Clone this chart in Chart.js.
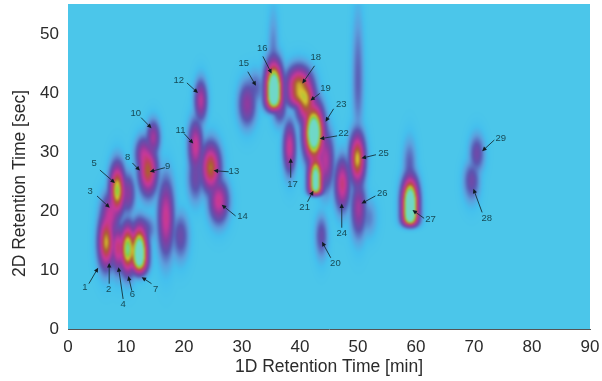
<!DOCTYPE html>
<html>
<head>
<meta charset="utf-8">
<style>
  html, body { margin: 0; padding: 0; background: #fff; }
  canvas { display: block; }
</style>
<script src="https://cdn.jsdelivr.net/npm/chart.js@4"></script>
</head>
<body>
<canvas id="chart" width="602" height="381"></canvas>
<script>
// tick labels
const xTicks = [0, 10, 20, 30, 40, 50, 60, 70, 80, 90];
const yTicks = [0, 10, 20, 30, 40, 50];

// peaks: 1D time, 2D time, height, spreads (min / sec), sharpness of lower edge
const peakX     = [6.6, 8.6, 10.3, 12.3, 8.5, 7.3, 10.3, 13.8, 13.0, 14.7, 16.9, 19.4, 22.0, 22.0, 24.6, 26.0, 22.9, 30.9, 32.3, 35.5, 35.4, 36.5, 39.8, 41.0, 42.4, 42.7, 44.4, 38.2, 47.3, 49.9, 50.0, 50.1, 51.8, 59.0, 58.9, 43.7, 69.6, 70.5, 13.0];
const peakY     = [14.7, 13.8, 13.6, 12.9, 23.5, 19.5, 23.0, 26.9, 29.7, 32.5, 18.9, 15.8, 31.1, 25.7, 27.4, 21.8, 38.8, 38.2, 41.0, 40.8, 47.0, 37.6, 41.3, 38.8, 33.3, 25.7, 28.6, 30.8, 24.6, 28.9, 42.0, 20.6, 18.9, 21.4, 28.0, 15.8, 25.2, 29.8, 17.0];
const peakLevel = [0.78, 0.56, 0.96, 1.25, 0.88, 0.48, 0.36, 0.7, 0.44, 0.42, 0.52, 0.27, 0.52, 0.28, 0.72, 0.52, 0.46, 0.38, 0.2, 1.3, 0.15, 0.32, 0.76, 0.76, 1.25, 1.1, 0.46, 0.52, 0.56, 0.8, 0.2, 0.42, 0.15, 1.3, 0.2, 0.26, 0.28, 0.28, 0.26];
const peakW     = [0.95, 0.8, 0.9, 0.95, 0.9, 1.1, 0.9, 1.1, 0.95, 0.8, 0.95, 1.0, 0.85, 0.95, 1.15, 1.15, 0.75, 1.05, 1.05, 1.0, 0.65, 0.85, 1.5, 1.15, 1.15, 0.85, 1.0, 0.75, 0.9, 0.9, 0.7, 0.9, 1.0, 0.95, 0.8, 0.75, 0.95, 0.9, 1.4];
const peakUp    = [3.3, 2.6, 2.8, 3.0, 3.0, 2.5, 2.4, 2.8, 2.0, 2.0, 4.5, 2.6, 3.0, 2.6, 2.8, 2.4, 2.4, 2.6, 2.0, 3.0, 5.0, 2.0, 2.2, 2.6, 3.2, 2.5, 3.5, 3.0, 3.0, 3.0, 8.0, 3.0, 2.2, 2.8, 3.0, 2.4, 2.2, 2.2, 1.6];
const peakDown  = [3.0, 2.8, 2.8, 2.6, 2.8, 2.6, 2.4, 2.8, 2.0, 2.0, 4.5, 2.8, 3.0, 2.8, 2.8, 2.6, 2.4, 2.6, 2.0, 3.0, 3.0, 2.0, 3.0, 2.6, 3.2, 2.6, 3.5, 3.0, 3.0, 3.0, 6.0, 3.4, 2.2, 3.4, 3.0, 2.6, 2.4, 2.2, 1.6];
const peakEdge  = [2, 2, 2, 3, 2, 2, 2, 2, 2, 2, 2, 2, 2, 2, 2, 2, 2, 2, 2, 4, 2, 2, 4, 2, 2, 6, 2, 2, 2, 2, 2, 2, 2, 6, 2, 2, 2, 2, 2];

// numbered call-outs: label, text position, arrow tail, arrow tip (chart units)
const calloutNames = ['1','2','3','4','5','6','7','8','9','10','11','12','13','14','15','16','17','18','19','20','21','22','23','24','25','26','27','28','29'];
const calloutTextX = [2.9, 7.0, 3.8, 9.5, 4.5, 11.1, 15.1, 10.3, 17.2, 11.7, 19.4, 19.1, 28.6, 30.1, 30.3, 33.5, 38.7, 42.7, 44.4, 46.1, 40.8, 47.5, 47.1, 47.2, 54.4, 54.2, 62.5, 72.2, 74.6];
const calloutTextY = [7.1, 6.8, 23.3, 4.1, 28.1, 5.8, 6.8, 29.1, 27.6, 36.6, 33.8, 42.3, 26.7, 19.2, 45.1, 47.6, 24.5, 46.1, 40.9, 11.1, 20.6, 33.2, 38.1, 16.3, 29.9, 23.0, 18.7, 18.8, 32.4];
const calloutTailX = [3.6, 7.1, 5.0, 9.5, 5.5, 11.0, 14.4, 11.1, 16.7, 12.6, 20.0, 20.5, 27.7, 28.9, 31.0, 33.6, 38.4, 42.5, 43.4, 45.3, 41.3, 46.4, 45.8, 47.2, 53.1, 53.0, 61.4, 71.4, 73.5];
const calloutTailY = [7.7, 7.7, 22.6, 5.1, 27.0, 6.5, 7.7, 28.2, 27.4, 35.9, 33.2, 41.8, 26.7, 19.2, 43.7, 46.3, 25.7, 44.7, 40.0, 12.1, 21.6, 32.8, 37.4, 17.2, 29.6, 22.6, 18.8, 19.8, 32.1];
const calloutTipX  = [5.2, 7.1, 7.2, 8.7, 8.1, 10.4, 12.7, 12.4, 14.1, 14.4, 21.6, 22.4, 25.1, 26.5, 32.4, 35.1, 38.4, 40.4, 41.8, 43.8, 42.3, 43.4, 44.4, 47.2, 50.6, 50.6, 59.4, 69.9, 71.4];
const calloutTipY  = [10.4, 11.2, 20.6, 10.5, 24.8, 9.0, 8.8, 26.9, 26.7, 34.1, 31.5, 40.1, 26.9, 21.1, 41.3, 43.4, 29.0, 41.7, 38.8, 14.8, 23.5, 32.3, 35.2, 21.3, 29.0, 21.3, 20.2, 23.8, 30.2];

// colour ramp of the intensity
const rampAt  = [0, 0.05, 0.14, 0.27, 0.42, 0.55, 0.66, 0.74, 0.82, 0.9, 1.0];
const rampRgb = [[75,198,234],[68,192,238],[92,160,222],[90,85,176],[136,60,160],[200,56,154],[192,64,95],[168,98,47],[216,192,48],[127,208,64],[111,216,200]];

function rampColor(v) {
  if (v >= 1) return rampRgb[rampRgb.length - 1];
  let i = 0;
  while (v > rampAt[i + 1]) i++;
  const t = (v - rampAt[i]) / (rampAt[i + 1] - rampAt[i]);
  return rampRgb[i].map((c, k) => c + (rampRgb[i + 1][k] - c) * t);
}

// paints the peaks as a heat field under the axes, through the chart scales
const heatField = {
  id: 'heatField',
  beforeDatasetsDraw(chart) {
    const { ctx, chartArea: a, scales: { x, y } } = chart;
    const peaks = chart.data.datasets[0].data;
    const w = Math.round(a.right - a.left), h = Math.round(a.bottom - a.top);
    const off = document.createElement('canvas');
    off.width = w; off.height = h;
    const octx = off.getContext('2d');
    const img = octx.createImageData(w, h);
    for (let j = 0; j < h; j++) {
      const yv = y.getValueForPixel(a.top + j + 0.5);
      for (let i = 0; i < w; i++) {
        const xv = x.getValueForPixel(a.left + i + 0.5);
        let s = 0;
        peaks.forEach(p => {
          const dx = (xv - p.x) / p.w;
          const above = yv >= p.y;
          const dy = Math.abs(yv - p.y) / (above ? p.up : p.down);
          const e = above ? 2 : p.edge;
          const val = p.level * Math.exp(-0.5 * dx * dx - 0.5 * Math.pow(dy, e));
          s += val * val * val;
        });
        const c = rampColor(Math.pow(Math.cbrt(s), 0.85));
        const k = (j * w + i) * 4;
        img.data[k] = c[0]; img.data[k + 1] = c[1]; img.data[k + 2] = c[2]; img.data[k + 3] = 255;
      }
    }
    octx.putImageData(img, 0, 0);
    ctx.save();
    ctx.fillStyle = '#4bc6ea';
    ctx.fillRect(a.left, a.top, w, h);
    ctx.beginPath();
    ctx.rect(a.left, a.top, w, h);
    ctx.clip();
    ctx.filter = 'blur(0.8px)';
    ctx.drawImage(off, a.left, a.top);
    ctx.restore();
  }
};

// numbered labels and arrows
const callouts = {
  id: 'callouts',
  afterDatasetsDraw(chart) {
    const { ctx, scales: { x, y } } = chart;
    ctx.save();
    ctx.font = '9.5px "Liberation Sans"';
    ctx.textAlign = 'center';
    ctx.textBaseline = 'middle';
    calloutNames.forEach((name, i) => {
      const x0 = x.getPixelForValue(calloutTailX[i]), y0 = y.getPixelForValue(calloutTailY[i]);
      const x1 = x.getPixelForValue(calloutTipX[i]), y1 = y.getPixelForValue(calloutTipY[i]);
      const ang = Math.atan2(y1 - y0, x1 - x0);
      ctx.strokeStyle = '#14303a';
      ctx.fillStyle = '#101c24';
      ctx.lineWidth = 0.9;
      ctx.beginPath();
      ctx.moveTo(x0, y0);
      ctx.lineTo(x1 - 3 * Math.cos(ang), y1 - 3 * Math.sin(ang));
      ctx.stroke();
      ctx.beginPath();
      ctx.moveTo(x1, y1);
      ctx.lineTo(x1 - 5 * Math.cos(ang - 0.45), y1 - 5 * Math.sin(ang - 0.45));
      ctx.lineTo(x1 - 5 * Math.cos(ang + 0.45), y1 - 5 * Math.sin(ang + 0.45));
      ctx.closePath();
      ctx.fill();
      ctx.fillStyle = '#174a56';
      ctx.fillText(name, x.getPixelForValue(calloutTextX[i]), y.getPixelForValue(calloutTextY[i]));
    });
    ctx.restore();
  }
};

const peakData = peakX.map((px, i) => ({
  x: px, y: peakY[i], level: peakLevel[i], w: peakW[i], up: peakUp[i], down: peakDown[i], edge: peakEdge[i]
}));

new Chart(document.getElementById('chart'), {
  type: 'scatter',
  data: { datasets: [{ label: 'Peaks', data: peakData, pointRadius: 0 }] },
  plugins: [heatField, callouts],
  options: {
    responsive: false,
    animation: false,
    layout: { padding: { top: 4, right: 12, left: 0, bottom: 0 } },
    plugins: { legend: { display: false }, tooltip: { enabled: false } },
    scales: {
      x: {
        type: 'linear', min: 0, max: 90,
        afterBuildTicks: s => { s.ticks = xTicks.map(v => ({ value: v })); },
        afterFit: s => { s.height = 52; s.paddingLeft = 0; s.paddingRight = 0; },
        grid: { display: false, drawTicks: true, tickLength: 6, tickColor: '#333' },
        border: { display: true, color: '#555' },
        ticks: { color: '#2b2b2b', font: { family: 'Liberation Sans', size: 17 }, padding: 2, maxRotation: 0, autoSkip: false },
        title: { display: true, text: '1D Retention Time [min]', color: '#2b2b2b', font: { family: 'Liberation Sans', size: 17.5 }, padding: { top: 0, bottom: 3 } }
      },
      y: {
        type: 'linear', min: 0, max: 55.2,
        afterBuildTicks: s => { s.ticks = yTicks.map(v => ({ value: v })); },
        afterFit: s => { s.width = 68; s.paddingTop = 0; s.paddingBottom = 0; },
        grid: { display: false, drawTicks: true, tickLength: 6, tickColor: '#333' },
        border: { display: true, color: '#555' },
        ticks: { color: '#2b2b2b', font: { family: 'Liberation Sans', size: 17 }, padding: 3, autoSkip: false },
        // trailing spaces push the title down, it sits below the plot centre in the original
        title: { display: true, text: '2D Retention Time [sec]       ', color: '#2b2b2b', font: { family: 'Liberation Sans', size: 17.5 }, padding: { top: 10, bottom: 0 } }
      }
    }
  }
});
</script>
</body>
</html>
